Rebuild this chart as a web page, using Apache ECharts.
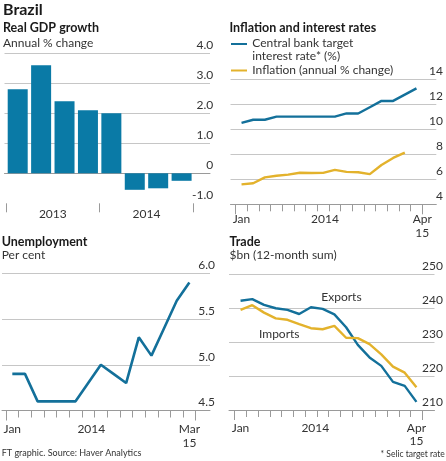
<!DOCTYPE html>
<html>
<head>
<meta charset="utf-8">
<script src="https://cdn.jsdelivr.net/npm/echarts@6/dist/echarts.min.js"></script>
<style>
html,body{margin:0;padding:0;background:#fff;}
#c{width:446px;height:461px;}
</style>
</head>
<body>
<div id="c"></div>
<script>
// ---------- DATA ----------
const gdpQuarters = ['Q1 2013','Q2 2013','Q3 2013','Q4 2013','Q1 2014','Q2 2014','Q3 2014','Q4 2014'];
const gdpYears = ['2013','2014'];
const gdpGrowth = [2.8, 3.6, 2.4, 2.1, 2.0, -0.55, -0.5, -0.25];

const rateMonths = ['Jan 2014','Feb 2014','Mar 2014','Apr 2014','May 2014','Jun 2014','Jul 2014','Aug 2014','Sep 2014','Oct 2014','Nov 2014','Dec 2014','Jan 2015','Feb 2015','Mar 2015','Apr 2015'];
const rateTickLabels = ['Jan','','','','','','','2014','','','','','','','','Apr\n15'];
const selicRate = [10.5, 10.75, 10.75, 11.0, 11.0, 11.0, 11.0, 11.0, 11.0, 11.25, 11.25, 11.75, 12.25, 12.25, 12.75, 13.25];
const inflation = [5.59, 5.68, 6.15, 6.28, 6.37, 6.52, 6.50, 6.51, 6.75, 6.59, 6.56, 6.41, 7.14, 7.70, 8.13];

const unempMonths = ['Jan 2014','Feb 2014','Mar 2014','Apr 2014','May 2014','Jun 2014','Jul 2014','Aug 2014','Sep 2014','Oct 2014','Nov 2014','Dec 2014','Jan 2015','Feb 2015','Mar 2015'];
const unempTickLabels = ['Jan','','','','','','2014','','','','','','','','Mar\n15'];
const unemployment = [4.9, 4.9, 4.6, 4.6, 4.6, 4.6, 4.8, 5.0, 4.9, 4.8, 5.3, 5.1, 5.4, 5.7, 5.9];

const tradeMonths = rateMonths.slice();
const tradeTickLabels = ['Jan','','','','','','2014','','','','','','','','','Apr\n15'];
const exportsBn = [242.2, 242.7, 241.0, 240.0, 239.5, 238.3, 240.3, 239.8, 238.2, 234.4, 229.2, 225.5, 223.0, 218.3, 217.1, 212.4];
const importsBn = [239.5, 240.9, 238.7, 237.0, 236.6, 235.3, 234.1, 233.8, 234.8, 231.3, 231.2, 229.4, 226.4, 222.8, 221.0, 216.7];

// ---------- STYLE ----------
const FONT = 'Lato, "Open Sans", sans-serif';
const BLUE_BAR = '#0a7aa6';
const BLUE = '#13709a';
const YELLOW = '#e3b22c';
const GRID_C = '#c6c6c6';
const AXIS_C = '#9a9a9a';
const TXT = '#333333';
const DARK = '#1a1a1a';

function bgX(gi) {
  return { gridIndex: gi, type: 'value', min: 0, max: 1, position: 'bottom',
    axisLine: { show: true, lineStyle: { color: AXIS_C, width: 1 } },
    axisTick: { show: false }, axisLabel: { show: false }, splitLine: { show: false } };
}
function bgY(gi, min, max, interval, margin, fmt) {
  return { gridIndex: gi, type: 'value', min, max, interval, position: 'right',
    axisLine: { show: false }, axisTick: { show: false },
    splitLine: { show: true, showMinLine: false, lineStyle: { color: GRID_C, width: 1 } },
    axisLabel: { inside: true, align: 'right', verticalAlign: 'bottom', lineHeight: 16,
      margin, color: TXT, fontFamily: FONT, fontSize: 12, formatter: fmt } };
}
function hidY(gi, min, max) {
  return { gridIndex: gi, type: 'value', min, max, show: false, splitLine: { show: false } };
}
function richFormatter(labels, shifts) {
  return function (val, idx) {
    const t = labels[idx];
    if (!t) return '';
    const s = shifts[idx];
    if (!s) return t;
    return t.split('\n').map(l => '{' + s + '|' + l + '}').join('\n');
  };
}
function catAxis(gi, data, labels, shifts, richDefs, margin, lh) {
  const rich = {};
  Object.keys(richDefs).forEach(k => {
    rich[k] = { padding: [0, 0, 0, richDefs[k]], fontFamily: FONT, fontSize: 12, color: TXT, lineHeight: lh };
  });
  return { gridIndex: gi, type: 'category', data, boundaryGap: true, position: 'bottom',
    axisLine: { show: false },
    axisTick: { show: true, interval: 0, length: 7, lineStyle: { color: AXIS_C } },
    axisLabel: { interval: 0, margin, color: TXT, fontFamily: FONT, fontSize: 12, lineHeight: lh,
      formatter: richFormatter(labels, shifts), rich },
    splitLine: { show: false } };
}
function longTickAxis(gi, data, at) {
  return { gridIndex: gi, type: 'category', data, boundaryGap: true, position: 'bottom',
    axisLine: { show: false },
    axisTick: { show: true, interval: (i) => i === at, length: 10, lineStyle: { color: AXIS_C } },
    axisLabel: { show: false }, splitLine: { show: false } };
}

const option = {
  backgroundColor: '#ffffff',
  animation: false,
  grid: [
    { left: 4.5, top: 53.3, width: 205.5, height: 150 },   // 0 GDP bg
    { left: 6, top: 53.3, width: 187.3, height: 150 },     // 1 GDP data
    { left: 230.5, top: 79, width: 205.8, height: 125.3 }, // 2 infl bg
    { left: 235.7, top: 79, width: 186.6, height: 125.3 }, // 3 infl data
    { left: 2, top: 273.3, width: 208, height: 137.2 },    // 4 unemp bg
    { left: 6, top: 273.3, width: 189.7, height: 137.2 },  // 5 unemp data
    { left: 229, top: 274.3, width: 207, height: 135.7 },  // 6 trade bg
    { left: 234.7, top: 274.3, width: 187.6, height: 135.7 } // 7 trade data
  ],
  xAxis: [
    bgX(0),
    { gridIndex: 1, type: 'category', data: gdpQuarters, show: false, boundaryGap: true },
    { gridIndex: 1, type: 'category', data: gdpYears, boundaryGap: true, position: 'bottom',
      axisLine: { show: false },
      axisTick: { show: true, length: 9, lineStyle: { color: AXIS_C } },
      axisLabel: { margin: 4, color: TXT, fontFamily: FONT, fontSize: 12, lineHeight: 14 } },
    bgX(2),
    catAxis(3, rateMonths, rateTickLabels, { 7: 'a', 15: 'b' }, { a: 3.6, b: 11.6 }, 8, 14),
    longTickAxis(3, rateMonths, 12),
    bgX(4),
    catAxis(5, unempMonths, unempTickLabels, { 6: 'a' }, { a: 6.2 }, 12, 13.5),
    longTickAxis(5, unempMonths, 12),
    bgX(6),
    catAxis(7, tradeMonths, tradeTickLabels, { 6: 'a' }, { a: 8.8 }, 11, 13.5),
    longTickAxis(7, tradeMonths, 12)
  ],
  yAxis: [
    bgY(0, -1, 4, 1, -3.3, v => (v === 0 ? '0' : v.toFixed(1))),
    hidY(1, -1, 4),
    bgY(2, 4, 14, 2, -6.7, v => String(v)),
    hidY(3, 4, 14),
    bgY(4, 4.5, 6.0, 0.5, -5, v => v.toFixed(1)),
    hidY(5, 4.5, 6.0),
    bgY(6, 210, 250, 10, -8.5, v => String(v)),
    hidY(7, 210, 250)
  ],
  series: [
    { type: 'bar', name: 'Real GDP growth', xAxisIndex: 1, yAxisIndex: 1, data: gdpGrowth,
      barWidth: 20, itemStyle: { color: BLUE_BAR } },
    { type: 'line', name: 'Central bank target interest rate', xAxisIndex: 4, yAxisIndex: 3, data: selicRate,
      symbol: 'none', lineStyle: { color: BLUE, width: 2.4 } },
    { type: 'line', name: 'Inflation', xAxisIndex: 4, yAxisIndex: 3, data: inflation,
      symbol: 'none', lineStyle: { color: YELLOW, width: 2.4 } },
    { type: 'line', name: 'Unemployment', xAxisIndex: 7, yAxisIndex: 5, data: unemployment,
      symbol: 'none', lineStyle: { color: BLUE, width: 2.6 } },
    { type: 'line', name: 'Exports', xAxisIndex: 10, yAxisIndex: 7, data: exportsBn,
      symbol: 'none', lineStyle: { color: BLUE, width: 2.4 } },
    { type: 'line', name: 'Imports', xAxisIndex: 10, yAxisIndex: 7, data: importsBn,
      symbol: 'none', lineStyle: { color: YELLOW, width: 2.4 } }
  ],
  graphic: [
    { type: 'text', x: 3, y: 10, style: { text: 'Brazil', font: 'bold 16px ' + FONT, fill: DARK, verticalAlign: 'middle' } },
    { type: 'text', x: 3, y: 28, style: { text: 'Real GDP growth', font: 'bold 12.5px ' + FONT, fill: DARK, verticalAlign: 'middle' } },
    { type: 'text', x: 3, y: 43.5, style: { text: 'Annual % change', font: '12px ' + FONT, fill: TXT, verticalAlign: 'middle' } },

    { type: 'text', x: 229.5, y: 28, style: { text: 'Inflation and interest rates', font: 'bold 12.5px ' + FONT, fill: DARK, verticalAlign: 'middle' } },
    { type: 'line', shape: { x1: 231, y1: 44, x2: 247, y2: 44 }, style: { stroke: BLUE, lineWidth: 2 } },
    { type: 'text', x: 252.3, y: 43.3, style: { text: 'Central bank target', font: '12px ' + FONT, fill: TXT, verticalAlign: 'middle' } },
    { type: 'text', x: 252.3, y: 56.5, style: { text: 'interest rate* (%)', font: '12px ' + FONT, fill: TXT, verticalAlign: 'middle' } },
    { type: 'line', shape: { x1: 231, y1: 70.5, x2: 247, y2: 70.5 }, style: { stroke: YELLOW, lineWidth: 2 } },
    { type: 'text', x: 252.3, y: 70, style: { text: 'Inflation (annual % change)', font: '12px ' + FONT, fill: TXT, verticalAlign: 'middle' } },

    { type: 'text', x: 1.7, y: 241.7, style: { text: 'Unemployment', font: 'bold 12.5px ' + FONT, fill: DARK, verticalAlign: 'middle' } },
    { type: 'text', x: 1.7, y: 255, style: { text: 'Per cent', font: '12px ' + FONT, fill: TXT, verticalAlign: 'middle' } },

    { type: 'text', x: 229.5, y: 241.7, style: { text: 'Trade', font: 'bold 12.5px ' + FONT, fill: DARK, verticalAlign: 'middle' } },
    { type: 'text', x: 229.5, y: 255, style: { text: '$bn (12-month sum)', font: '12px ' + FONT, fill: TXT, verticalAlign: 'middle' } },
    { type: 'text', x: 321.3, y: 296.7, style: { text: 'Exports', font: '12px ' + FONT, fill: TXT, verticalAlign: 'middle' } },
    { type: 'text', x: 259, y: 334, style: { text: 'Imports', font: '12px ' + FONT, fill: TXT, verticalAlign: 'middle' } },

    { type: 'text', x: 1.7, y: 452.7, style: { text: 'FT graphic. Source: Haver Analytics', font: '9px ' + FONT, fill: TXT, verticalAlign: 'middle' } },
    { type: 'text', x: 444.7, y: 454, style: { text: '* Selic target rate', font: '8.5px ' + FONT, fill: TXT, verticalAlign: 'middle', align: 'right' } }
  ]
};

const chart = echarts.init(document.getElementById('c'), null, { renderer: 'canvas' });
chart.setOption(option);
</script>
</body>
</html>
